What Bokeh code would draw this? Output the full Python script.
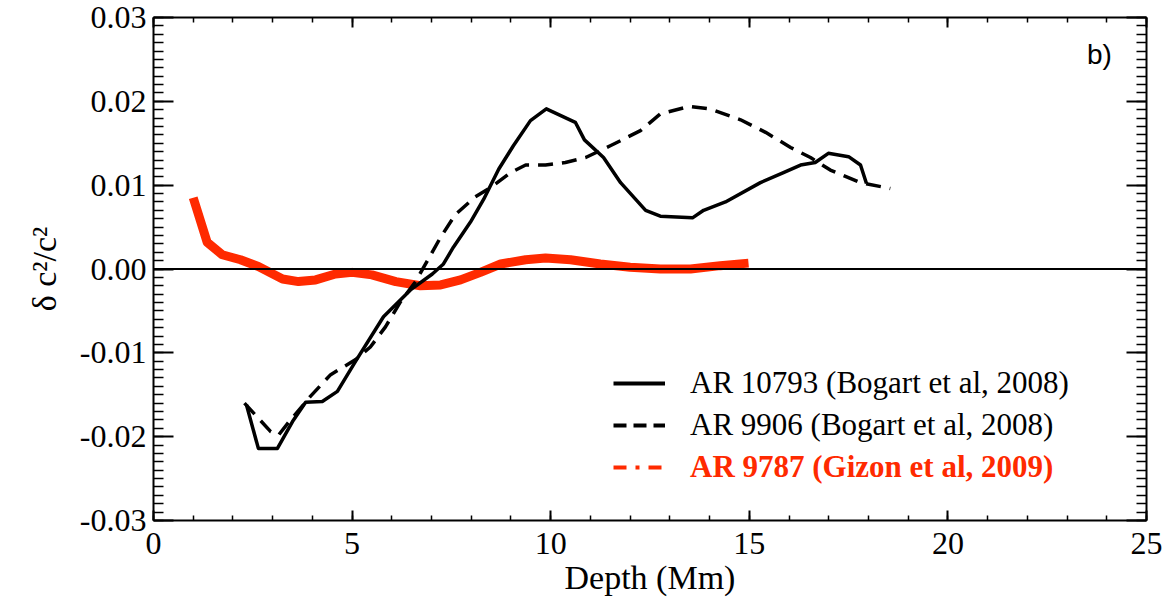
from bokeh.plotting import figure
from bokeh.models import (LinearAxis, FixedTicker, NumeralTickFormatter, Span, Legend,
                          LegendItem, Label)
from bokeh.layouts import column
from bokeh.embed import file_html
from bokeh.resources import INLINE

# ---- data ----
ar10793_depth = [2.34, 2.64, 3.12, 3.50, 3.83, 4.25, 4.63, 5.09, 5.79, 6.47, 7.02, 7.30,
                 7.55, 7.98, 8.31, 8.69, 9.06, 9.49, 9.89, 10.62, 10.85, 11.33, 11.76,
                 12.39, 12.76, 13.57, 13.85, 14.40, 15.28, 15.86, 16.29, 16.66, 16.99,
                 17.50, 17.80, 17.95]
ar10793_dc2 = [-0.0162, -0.0214, -0.0214, -0.0182, -0.0159, -0.0158, -0.0146, -0.0110,
               -0.0057, -0.0025, -0.0006, 0.0006, 0.0026, 0.0056, 0.0083, 0.0119, 0.0147,
               0.0177, 0.0191, 0.0175, 0.0154, 0.0133, 0.0103, 0.0070, 0.0063, 0.0061,
               0.0070, 0.0080, 0.0103, 0.0115, 0.0124, 0.0127, 0.0138, 0.0134, 0.0124,
               0.0102]

ar9906_depth = [2.29, 2.95, 3.15, 3.45, 3.95, 4.46, 5.09, 5.46, 5.84, 6.22, 6.60, 6.85,
                7.23, 7.60, 8.10, 8.48, 8.99, 9.37, 9.87, 10.37, 10.88, 11.50, 12.26,
                12.76, 13.50, 14.00, 14.78, 15.41, 16.04, 16.54, 17.04, 17.80, 18.55]
ar9906_dc2 = [-0.0160, -0.0194, -0.0198, -0.0180, -0.0152, -0.0126, -0.0108, -0.0093,
              -0.0069, -0.0039, -0.0015, 0.0006, 0.0038, 0.0065, 0.0086, 0.0097, 0.0115,
              0.0124, 0.0124, 0.0127, 0.0133, 0.0147, 0.0165, 0.0185, 0.0194, 0.0191,
              0.0178, 0.0163, 0.0145, 0.0133, 0.0118, 0.0103, 0.0096]

ar9787_depth = [1.00, 1.35, 1.73, 2.19, 2.64, 3.25, 3.65, 4.08, 4.58, 5.00, 5.50, 6.10,
                6.72, 7.23, 7.73, 8.23, 8.74, 9.37, 9.87, 10.50, 11.25, 12.00, 12.76,
                13.52, 14.27, 14.98]
ar9787_dc2 = [0.0085, 0.0032, 0.0017, 0.0011, 0.0003, -0.0012, -0.0015, -0.0013, -0.0006,
              -0.0004, -0.0007, -0.0015, -0.0020, -0.0019, -0.0013, -0.0004, 0.0006,
              0.0011, 0.0013, 0.0011, 0.0006, 0.0002, 0.0000, 0.0000, 0.0004, 0.0007]

labels = ["AR 10793 (Bogart et al, 2008)", "AR 9906 (Bogart et al, 2008)",
          "AR 9787 (Gizon et al, 2009)"]

x_major = [0, 5, 10, 15, 20, 25]
x_minor = list(range(0, 26))
y_major = [-0.03, -0.02, -0.01, 0.0, 0.01, 0.02, 0.03]
y_minor = [round(-0.03 + i * 0.001, 3) for i in range(61)]

RED = "#ff2a00"
SERIF = "Liberation Serif"

p = figure(width=1165, height=605, x_range=(0, 25), y_range=(-0.03, 0.03),
           output_backend="svg", toolbar_location=None,
           min_border_left=153, min_border_right=19, min_border_top=17,
           min_border_bottom=85)
p.xgrid.visible = False
p.ygrid.visible = False
p.outline_line_color = None
p.background_fill_color = "white"
p.border_fill_color = "white"

# data lines
r_red = p.line(ar9787_depth, ar9787_dc2, line_color=RED, line_width=9, line_join="round",
               line_cap="butt")
r_solid = p.line(ar10793_depth, ar10793_dc2, line_color="black", line_width=3.5,
                 line_join="round")
r_dash = p.line(ar9906_depth, ar9906_dc2, line_color="black", line_width=3.5,
                line_dash="15 9", line_join="round")

p.add_layout(Span(location=0, dimension="width", line_color="black", line_width=2))

# legend sample renderers (a single hidden NaN point each)
nan = float("nan")
l_solid = p.line(x=[nan], y=[nan], line_color="black", line_width=4)
l_dash = p.line(x=[nan], y=[nan], line_color="black", line_width=4, line_dash="13 7")
l_red = p.line(x=[nan], y=[nan], line_color=RED, line_width=4, line_dash="13 9 4 9")

common = dict(label_text_font=SERIF, label_text_font_size="31px", glyph_width=52,
              glyph_height=42, label_height=42, label_standoff=25, spacing=0, padding=0,
              margin=0, border_line_color=None, background_fill_alpha=0)
leg1 = Legend(items=[LegendItem(label=labels[0], renderers=[l_solid]),
                     LegendItem(label=labels[1], renderers=[l_dash])],
              location=(460, 74), label_text_color="black", **common)
leg2 = Legend(items=[LegendItem(label=labels[2], renderers=[l_red])],
              location=(460, 32), label_text_color=RED, label_text_font_style="bold",
              **common)
p.add_layout(leg1)
p.add_layout(leg2)

p.add_layout(Label(x=23.5, y=0.0237, text="b)", text_font="Liberation Sans",
                   text_font_size="28px", text_color="black"))

# axes styling
def style_axis(ax, major_len, minor_len, show_labels):
    ax.axis_line_width = 2
    ax.axis_line_color = "black"
    ax.major_tick_in = major_len
    ax.major_tick_out = 0
    ax.minor_tick_in = minor_len
    ax.minor_tick_out = 0
    ax.major_tick_line_width = 2
    ax.minor_tick_line_width = 1.5
    ax.major_tick_line_color = "black"
    ax.minor_tick_line_color = "black"
    if show_labels:
        ax.major_label_text_font = SERIF
        ax.major_label_text_font_size = "32px"
        ax.major_label_text_color = "black"
        ax.axis_label_text_font = SERIF
        ax.axis_label_text_font_size = "34px"
        ax.axis_label_text_font_style = "normal"
        ax.axis_label_text_color = "black"
    else:
        ax.major_label_text_font_size = "1px"
        ax.major_label_text_color = None
        ax.major_label_standoff = 0

xt = FixedTicker(ticks=x_major, minor_ticks=x_minor)
yt = FixedTicker(ticks=y_major, minor_ticks=y_minor)

xb = p.xaxis[0]
xb.ticker = xt
xb.axis_label = "Depth (Mm)"
xb.major_label_standoff = 12
xb.axis_label_standoff = 2
style_axis(xb, 10, 5, True)

yl = p.yaxis[0]
yl.ticker = yt
yl.formatter = NumeralTickFormatter(format="0.00")
yl.axis_label = "δ c²/c²"
yl.major_label_standoff = 7
yl.axis_label_standoff = 14
yl.major_label_orientation = "horizontal"
style_axis(yl, 20, 10, True)

xtop = LinearAxis(ticker=FixedTicker(ticks=x_major, minor_ticks=x_minor))
style_axis(xtop, 10, 5, False)
p.add_layout(xtop, "above")

yr = LinearAxis(ticker=FixedTicker(ticks=y_major, minor_ticks=y_minor))
style_axis(yr, 20, 10, False)
p.add_layout(yr, "right")

# thin gray page-edge rule under the chart
bar = figure(width=1165, height=3, x_range=(0, 1), y_range=(0, 1),
             output_backend="svg", toolbar_location=None,
             min_border=0, min_border_left=0, min_border_right=0,
             min_border_top=0, min_border_bottom=0)
bar.axis.visible = False
bar.grid.visible = False
bar.outline_line_color = None
bar.background_fill_color = "#666666"
bar.border_fill_color = "#666666"

layout = column(p, bar, spacing=0)
open("out.html", "w").write(file_html(layout, INLINE))
